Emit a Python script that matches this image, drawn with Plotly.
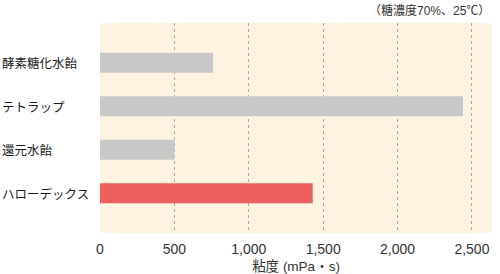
import plotly.graph_objects as go

categories = ["酵素糖化水飴", "テトラップ", "還元水飴", "ハローデックス"]
values = [760, 2440, 500, 1430]
colors = ["#C8C8C8", "#C8C8C8", "#C8C8C8", "#EE5F5F"]
tick_vals = [0, 500, 1000, 1500, 2000, 2500]
tick_text = ["0", "500", "1,000", "1,500", "2,000", "2,500"]
x_title = "粘度 (mPa・s)"
note = "（糖濃度70%、25℃）"

FONT = "Liberation Sans, Noto Sans CJK JP"

fig = go.Figure(go.Bar(
    x=values, y=categories, orientation="h",
    marker=dict(color=colors, line=dict(width=0)),
    width=0.46, hoverinfo="skip",
))

fig.update_layout(
    width=500, height=274,
    margin=dict(l=100, r=8, t=23, b=41),
    paper_bgcolor="white", plot_bgcolor="#FEF3E0",
    font=dict(family=FONT, color="#333333"),
    showlegend=False, bargap=0.5,
)
fig.update_xaxes(
    range=[0, 2635], tickvals=tick_vals, ticktext=tick_text,
    showgrid=True, gridcolor="#AAAAAA", griddash="dot", gridwidth=1,
    zeroline=False, showline=False, ticks="", ticklabelstandoff=6,
    automargin=False,
    tickfont=dict(size=14, family=FONT, color="#333333"),
    title=dict(text=x_title, font=dict(size=13.5, family=FONT, color="#333333"), standoff=5),
)
fig.update_yaxes(
    range=[3.91, -0.91], showticklabels=False, showgrid=False,
    zeroline=False, showline=False, ticks="", automargin=False,
)

for c in categories:
    fig.add_annotation(
        x=0, xref="paper", xshift=-100, y=c, yref="y",
        text=c, showarrow=False, xanchor="left", yanchor="middle",
        font=dict(size=12.5, family="Noto Sans CJK JP", color="#1A1A1A"),
    )

fig.add_annotation(
    x=1, xref="paper", y=1, yref="paper", yshift=12,
    text=note, showarrow=False, xanchor="right", yanchor="middle",
    font=dict(size=12, family=FONT, color="#333333"),
)

fig.write_html("out.html")
